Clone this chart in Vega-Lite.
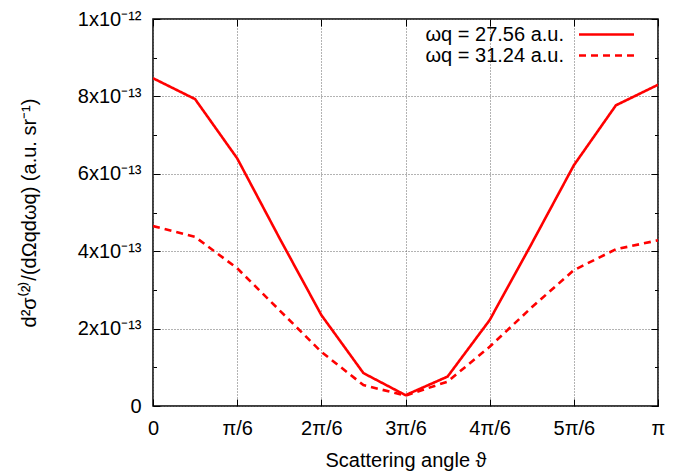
{
  "$schema": "https://vega.github.io/schema/vega-lite/v6.json",
  "width": 505,
  "height": 387,
  "autosize": {"type": "none"},
  "padding": {"left": 153, "top": 19, "right": 27, "bottom": 68},
  "background": "white",
  "config": {
    "view": {"stroke": "black", "strokeWidth": 1.5},
    "font": "Liberation Sans",
    "axis": {"labelFont": "Liberation Sans", "titleFont": "Liberation Sans", "labelFontSize": 20, "titleFontSize": 20, "titleFontWeight": "normal", "labelColor": "black", "titleColor": "black", "domain": false, "tickColor": "black", "tickWidth": 1},
    "legend": {"labelFont": "Liberation Sans", "labelFontSize": 20, "labelColor": "black"}
  },
  "data": {
    "values": [
      {"a": 0, "v": 8.47e-13, "s": "ωq = 27.56 a.u."},
      {"a": 0.2618, "v": 7.93e-13, "s": "ωq = 27.56 a.u."},
      {"a": 0.5236, "v": 6.40e-13, "s": "ωq = 27.56 a.u."},
      {"a": 0.7854, "v": 4.35e-13, "s": "ωq = 27.56 a.u."},
      {"a": 1.0472, "v": 2.35e-13, "s": "ωq = 27.56 a.u."},
      {"a": 1.3090, "v": 0.85e-13, "s": "ωq = 27.56 a.u."},
      {"a": 1.5708, "v": 0.28e-13, "s": "ωq = 27.56 a.u."},
      {"a": 1.8326, "v": 0.76e-13, "s": "ωq = 27.56 a.u."},
      {"a": 2.0944, "v": 2.22e-13, "s": "ωq = 27.56 a.u."},
      {"a": 2.3562, "v": 4.20e-13, "s": "ωq = 27.56 a.u."},
      {"a": 2.6180, "v": 6.22e-13, "s": "ωq = 27.56 a.u."},
      {"a": 2.8798, "v": 7.77e-13, "s": "ωq = 27.56 a.u."},
      {"a": 3.1416, "v": 8.30e-13, "s": "ωq = 27.56 a.u."},
      {"a": 0, "v": 4.65e-13, "s": "ωq = 31.24 a.u."},
      {"a": 0.2618, "v": 4.37e-13, "s": "ωq = 31.24 a.u."},
      {"a": 0.5236, "v": 3.56e-13, "s": "ωq = 31.24 a.u."},
      {"a": 0.7854, "v": 2.48e-13, "s": "ωq = 31.24 a.u."},
      {"a": 1.0472, "v": 1.40e-13, "s": "ωq = 31.24 a.u."},
      {"a": 1.3090, "v": 0.54e-13, "s": "ωq = 31.24 a.u."},
      {"a": 1.5708, "v": 0.27e-13, "s": "ωq = 31.24 a.u."},
      {"a": 1.8326, "v": 0.63e-13, "s": "ωq = 31.24 a.u."},
      {"a": 2.0944, "v": 1.53e-13, "s": "ωq = 31.24 a.u."},
      {"a": 2.3562, "v": 2.55e-13, "s": "ωq = 31.24 a.u."},
      {"a": 2.6180, "v": 3.51e-13, "s": "ωq = 31.24 a.u."},
      {"a": 2.8798, "v": 4.05e-13, "s": "ωq = 31.24 a.u."},
      {"a": 3.1416, "v": 4.28e-13, "s": "ωq = 31.24 a.u."}
    ]
  },
  "resolve": {"axis": {"x": "independent", "y": "independent"}},
  "layer": [
    {
      "mark": {"type": "line", "color": "#ff0000", "strokeWidth": 2.6, "clip": true},
      "encoding": {
        "x": {
          "field": "a", "type": "quantitative",
          "scale": {"domain": [0, 3.141592653589793], "nice": false, "zero": false},
          "axis": {
            "orient": "bottom",
            "values": [0, 0.5235987755982988, 1.0471975511965976, 1.5707963267948966, 2.0943951023931953, 2.6179938779659, 3.141592653589793],
            "labelExpr": "['0','π/6','2π/6','3π/6','4π/6','5π/6','π'][round(datum.value*6/PI)]",
            "tickSize": -7,
            "labelPadding": 19,
            "labelFlush": false,
            "grid": true, "gridColor": "#666", "gridDash": [1, 2], "gridWidth": 1,
            "title": "Scattering angle ϑ",
            "titlePadding": 12
          }
        },
        "y": {
          "field": "v", "type": "quantitative",
          "scale": {"domain": [0, 1e-12], "nice": false},
          "axis": {
            "orient": "left",
            "values": [0, 1e-13, 2e-13, 3e-13, 4e-13, 5e-13, 6e-13, 7e-13, 8e-13, 9e-13, 1e-12],
            "labelExpr": "round(datum.value*1e13) == 0 ? '0' : round(datum.value*1e13) == 10 ? '1x10⁻¹²' : round(datum.value*1e13) % 2 == 0 ? round(datum.value*1e13) + 'x10⁻¹³' : ''",
            "tickSize": {"condition": {"test": "round(datum.value*1e13) % 2 == 0", "value": -7}, "value": -3.5},
            "labelPadding": 19,
            "labelFlush": false,
            "grid": true, "gridColor": "#666", "gridDash": [1, 2], "gridWidth": 1,
            "gridOpacity": {"condition": {"test": "round(datum.value*1e13) % 2 == 0", "value": 1}, "value": 0},
            "title": "d²σ⁽²⁾/(dΩqdωq) (a.u. sr⁻¹)",
            "titlePadding": 38
          }
        },
        "strokeDash": {
          "field": "s", "type": "nominal",
          "scale": {"domain": ["ωq = 27.56 a.u.", "ωq = 31.24 a.u."], "range": [[1, 0], [7, 5]]},
          "legend": {
            "title": null,
            "orient": "none",
            "legendX": 443,
            "legendY": 5,
            "symbolType": "M-3,0H3",
            "symbolSize": 336,
            "symbolStrokeColor": "#ff0000",
            "symbolStrokeWidth": 2.6,
            "labelAlign": "right",
            "labelOffset": -53,
            "rowPadding": 0,
            "padding": 0
          }
        }
      }
    },
    {
      "mark": {"type": "line", "strokeOpacity": 0},
      "encoding": {
        "x": {
          "field": "a", "type": "quantitative",
          "axis": {
            "orient": "top",
            "values": [0, 0.5235987755982988, 1.0471975511965976, 1.5707963267948966, 2.0943951023931953, 2.6179938779659, 3.141592653589793],
            "labels": false, "grid": false, "tickSize": -7, "title": null
          }
        },
        "y": {
          "field": "v", "type": "quantitative",
          "axis": {
            "orient": "right",
            "values": [0, 1e-13, 2e-13, 3e-13, 4e-13, 5e-13, 6e-13, 7e-13, 8e-13, 9e-13, 1e-12],
            "labels": false, "grid": false, "title": null,
            "tickSize": {"condition": {"test": "round(datum.value*1e13) % 2 == 0", "value": -7}, "value": -3.5}
          }
        },
        "detail": {"field": "s"}
      }
    }
  ]
}
